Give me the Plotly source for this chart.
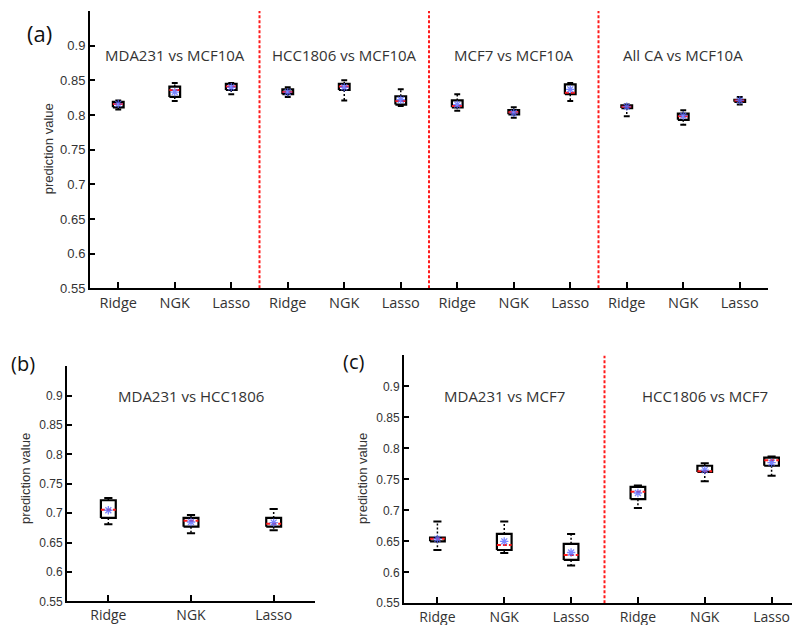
import plotly.graph_objects as go

# ---------------- data ----------------
methods = ["Ridge", "NGK", "Lasso"]
groups_a = ["MDA231 vs MCF10A", "HCC1806 vs MCF10A", "MCF7 vs MCF10A", "All CA vs MCF10A"]
groups_b = ["MDA231 vs HCC1806"]
groups_c = ["MDA231 vs MCF7", "HCC1806 vs MCF7"]
y_ticks = [0.55, 0.6, 0.65, 0.7, 0.75, 0.8, 0.85, 0.9]
y_tick_text = ["0.55", "0.6", "0.65", "0.7", "0.75", "0.8", "0.85", "0.9"]

# panel (a): box statistics, order = group x method
a_low  = [0.808, 0.820, 0.830, 0.826, 0.821, 0.813, 0.806, 0.796, 0.820, 0.798, 0.786, 0.815]
a_q1   = [0.811, 0.826, 0.836, 0.830, 0.836, 0.815, 0.811, 0.801, 0.830, 0.810, 0.793, 0.819]
a_med  = [0.816, 0.836, 0.841, 0.833, 0.841, 0.820, 0.813, 0.804, 0.832, 0.812, 0.798, 0.821]
a_q3   = [0.819, 0.841, 0.845, 0.837, 0.845, 0.827, 0.821, 0.807, 0.844, 0.814, 0.802, 0.822]
a_high = [0.821, 0.846, 0.846, 0.840, 0.850, 0.837, 0.830, 0.811, 0.846, 0.815, 0.807, 0.826]
a_mean = [0.816, 0.833, 0.840, 0.833, 0.840, 0.822, 0.815, 0.803, 0.837, 0.812, 0.799, 0.821]

# panel (b)
b_low  = [0.681, 0.666, 0.671]
b_q1   = [0.692, 0.677, 0.677]
b_med  = [0.706, 0.687, 0.682]
b_q3   = [0.722, 0.692, 0.692]
b_high = [0.726, 0.697, 0.707]
b_mean = [0.705, 0.685, 0.684]

# panel (c)
c_low  = [0.636, 0.631, 0.611, 0.704, 0.747, 0.756]
c_q1   = [0.650, 0.636, 0.620, 0.718, 0.762, 0.772]
c_med  = [0.654, 0.644, 0.628, 0.730, 0.763, 0.781]
c_q3   = [0.656, 0.662, 0.646, 0.738, 0.772, 0.785]
c_high = [0.682, 0.682, 0.662, 0.740, 0.776, 0.787]
c_mean = [0.654, 0.650, 0.632, 0.728, 0.765, 0.777]

# ---------------- figure ----------------
fig = go.Figure()
BLACK = "#000000"
RED = "#ff1a1a"
BLUE = "rgba(90,105,255,0.8)"
TXT = "#333333"


def add_boxes(xa, ya, low, q1, med, q3, high, mean, hw):
    n = len(med)
    xs = list(range(1, n + 1))
    bx, by, wx, wy, cx, cy, mx, my = [], [], [], [], [], [], [], []
    cap = hw * 0.55
    for i in range(n):
        x = xs[i]
        bx += [x - hw, x + hw, x + hw, x - hw, x - hw, None]
        by += [q1[i], q1[i], q3[i], q3[i], q1[i], None]
        wx += [x, x, None, x, x, None]
        wy += [q3[i], high[i], None, q1[i], low[i], None]
        cx += [x - cap, x + cap, None, x - cap, x + cap, None]
        cy += [high[i], high[i], None, low[i], low[i], None]
        mx += [x - hw, x + hw, None]
        my += [med[i], med[i], None]
    common = dict(xaxis=xa, yaxis=ya, showlegend=False, hoverinfo="skip")
    fig.add_trace(go.Scatter(x=wx, y=wy, mode="lines",
                             line=dict(color=BLACK, width=1.5, dash="2px,2px"), **common))
    fig.add_trace(go.Scatter(x=cx, y=cy, mode="lines",
                             line=dict(color=BLACK, width=2), **common))
    fig.add_trace(go.Scatter(x=bx, y=by, mode="lines", fill="toself", fillcolor="white",
                             line=dict(color=BLACK, width=2.2), **common))
    fig.add_trace(go.Scatter(x=mx, y=my, mode="lines",
                             line=dict(color=RED, width=2, dash="4px,2px"), **common))
    fig.add_trace(go.Scatter(x=xs, y=mean, mode="markers",
                             marker=dict(symbol="asterisk-open", size=7, color=BLUE,
                                         line=dict(color=BLUE, width=1.3)),
                             **common))


def add_separators(xa, ya, ngroups):
    sx, sy = [], []
    for k in range(1, ngroups):
        xpos = k * len(methods) + 0.5
        sx += [xpos, xpos, None]
        sy += [0.55, 0.95, None]
    if sx:
        fig.add_trace(go.Scatter(x=sx, y=sy, mode="lines", xaxis=xa, yaxis=ya,
                                 line=dict(color=RED, width=2, dash="3px,2px"),
                                 showlegend=False, hoverinfo="skip"))


add_separators("x", "y", len(groups_a))
add_boxes("x", "y", a_low, a_q1, a_med, a_q3, a_high, a_mean, 0.095)
add_boxes("x2", "y2", b_low, b_q1, b_med, b_q3, b_high, b_mean, 0.09)
add_separators("x3", "y3", len(groups_c))
add_boxes("x3", "y3", c_low, c_q1, c_med, c_q3, c_high, c_mean, 0.11)


def xaxis_cfg(domain, ngroups, size):
    return dict(domain=domain, range=[0.5, ngroups * len(methods) + 0.5],
                tickvals=list(range(1, ngroups * len(methods) + 1)),
                ticktext=methods * ngroups, ticks="inside", ticklen=6, tickwidth=1.5,
                tickcolor=BLACK, showline=True, linecolor=BLACK, linewidth=2,
                showgrid=False, zeroline=False,
                tickfont=dict(family="Open Sans", size=size, color=TXT))


def yaxis_cfg(domain, anchor, size):
    return dict(domain=domain, range=[0.55, 0.95], anchor=anchor,
                tickvals=y_ticks, ticktext=y_tick_text, ticks="inside", ticklen=5,
                tickwidth=1.5, tickcolor=BLACK, showline=True, linecolor=BLACK,
                linewidth=2, showgrid=False, zeroline=False,
                tickfont=dict(family="Liberation Sans", size=size, color=TXT))


fig.update_layout(
    width=800, height=625, margin=dict(l=0, r=0, t=0, b=0),
    paper_bgcolor="white", plot_bgcolor="white",
    xaxis=dict(anchor="y", **xaxis_cfg([0.1025, 0.95], len(groups_a), 14.5)),
    yaxis=yaxis_cfg([0.5456, 0.9952], "x", 13),
    xaxis2=dict(anchor="y2", **xaxis_cfg([0.07375, 0.38375], len(groups_b), 14)),
    yaxis2=yaxis_cfg([0.0384, 0.4192], "x2", 12),
    xaxis3=dict(anchor="y3", **xaxis_cfg([0.495, 0.99625], len(groups_c), 14)),
    yaxis3=yaxis_cfg([0.0352, 0.4368], "x3", 12),
)

ann = []
# group titles, centred over the middle method of each group
for axes, groups, yv in (("", groups_a, 0.887), ("2", groups_b, 0.9), ("3", groups_c, 0.884)):
    for k, g in enumerate(groups):
        ann.append(dict(text=g, x=k * len(methods) + 2, y=yv, xref="x" + axes, yref="y" + axes,
                        showarrow=False, xanchor="center", yanchor="middle",
                        font=dict(family="Open Sans", size=15, color=TXT)))
# y-axis titles
for xp, yp in ((0.05, 0.771), (0.0225, 0.2368), (0.44375, 0.2368)):
    ann.append(dict(text="prediction value", x=xp, y=yp, xref="paper", yref="paper",
                    textangle=-90, showarrow=False, xanchor="center", yanchor="middle",
                    font=dict(family="Liberation Sans", size=13, color=TXT)))
# panel letters
for t, xp, yp, s in (("(a)", 0.03875, 0.96, 22), ("(b)", 0.01875, 0.424, 20), ("(c)", 0.43125, 0.4272, 20)):
    ann.append(dict(text=t, x=xp, y=yp, xref="paper", yref="paper", showarrow=False,
                    xanchor="center", yanchor="middle",
                    font=dict(family="Open Sans", size=s, color="#111111")))
fig.update_layout(annotations=ann)

fig.write_html("out.html")
